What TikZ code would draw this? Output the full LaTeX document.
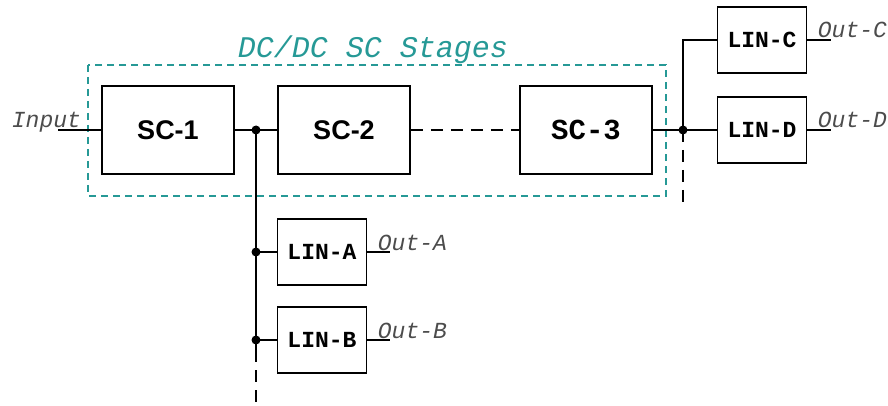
\documentclass[tikz,border=0pt]{standalone}
\usepackage{fontspec}
\newfontfamily\monofont{Liberation Mono}
\newfontfamily\labelsans{Liberation Sans}
\definecolor{stageteal}{RGB}{38,153,150}
\begin{document}
\begin{tikzpicture}[x=1pt,y=-1pt,line width=1.8pt,
  scbox/.style={draw,minimum width=132pt,minimum height=88pt,inner sep=0pt},
  linbox/.style={draw,minimum width=89pt,minimum height=66pt,inner sep=0pt,
    font=\monofont\bfseries\fontsize{23}{25}\selectfont},
  sclabel/.style={font=\labelsans\bfseries\fontsize{27}{30}\selectfont},
  sigtext/.style={font=\monofont\itshape\fontsize{23}{25}\selectfont,text=black!70,inner sep=0pt},
  junction/.style={circle,fill=black,inner sep=0pt,minimum size=9pt},
  gapline/.style={dash pattern=on 12pt off 8pt},
  frame/.style={draw=stageteal,line width=2pt,dash pattern=on 7pt off 5pt}]
\useasboundingbox (0,0) rectangle (888,406);

% stage frame and its title
\draw[frame] (88,65) rectangle (666,196);
\node[font=\monofont\itshape\fontsize{30}{32}\selectfont,text=stageteal,anchor=base,inner sep=0pt]
  (title) at (373,58) {DC/DC SC Stages};

% switched-capacitor stages
\node[scbox,sclabel] (sc1) at (168,130) {SC-1};
\node[scbox,sclabel] (sc2) at (344,130) {SC-2};
\node[scbox,font=\monofont\bfseries\fontsize{29}{31}\selectfont] (sc3) at (586,130) {SC-3};

% linear regulators
\node[linbox] (lina) at (322,252) {LIN-A};
\node[linbox] (linb) at (322,340) {LIN-B};
\node[linbox] (linc) at (762,40) {LIN-C};
\node[linbox] (lind) at (762,130) {LIN-D};

% taps and free ends
\coordinate (in) at (58,130);
\coordinate (j1) at (256,130);
\coordinate (ja) at (256,252);
\coordinate (jb) at (256,340);
\coordinate (jbs) at (256,350);
\coordinate (jbend) at (256,406);
\coordinate (j2) at (683,130);
\coordinate (j2end) at (683,202);
\coordinate (oa) at (390,252);
\coordinate (ob) at (390,340);
\coordinate (oc) at (831,40);
\coordinate (od) at (831,130);

% input
\node[sigtext,anchor=base west] (inlbl) at (11,128) {Input};
\draw (in) -- (sc1.west);

% main chain
\draw (sc1.east) -- (sc2.west);
\draw[gapline] (sc2.east) -- (sc3.west);
\draw (sc3.east) -- (lind.west);

% branch after SC-1
\draw (j1) |- (lina.west);
\draw (ja) |- (linb.west);
\draw (jb) -- (jbs);
\draw[gapline] (jbs) -- (jbend);

% branch after SC-3
\draw (j2) |- (linc.west);
\draw[gapline] (j2) -- (j2end);

% outputs
\draw (lina.east) -- (oa);
\draw (linb.east) -- (ob);
\draw (linc.east) -- (oc);
\draw (lind.east) -- (od);
\node[sigtext,anchor=base west] (la) at (377,250) {Out-A};
\node[sigtext,anchor=base west] (lb) at (377,338) {Out-B};
\node[sigtext,anchor=base west] (lc) at (817,38) {Out-C};
\node[sigtext,anchor=base west] (ld) at (817,128) {Out-D};

% junction dots
\node[junction] (d1) at (j1) {};
\node[junction] (d2) at (ja) {};
\node[junction] (d3) at (jb) {};
\node[junction] (d4) at (j2) {};
\end{tikzpicture}
\end{document}
